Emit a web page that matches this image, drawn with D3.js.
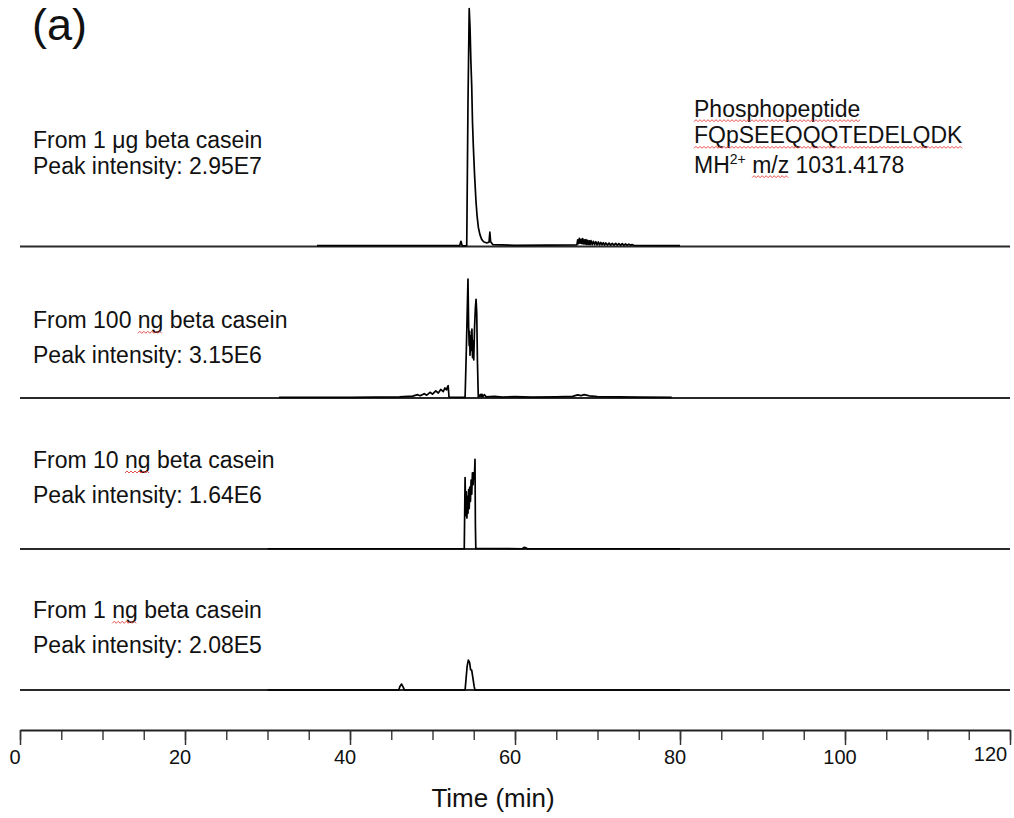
<!DOCTYPE html>
<html>
<head>
<meta charset="utf-8">
<script src="https://cdn.jsdelivr.net/npm/d3@7"></script>
<style>
    body { margin: 0; background: #fff; }
    text { font-family: "Liberation Sans", Arial, sans-serif; fill: #111; }
</style>
</head>
<body>
<svg id="canvas" width="1014" height="818"></svg>
<script>
// time (min), relative intensity (100 = tallest peak of the figure)
const trace1ug = [
    [36, 0.4], [45, 0.4], [53.3, 0.4], [53.45, 2.2], [53.6, 0.3], [54.15, 0.3], [54.3, 60], [54.45, 100],
    [54.55, 92], [54.65, 78], [54.75, 68], [54.85, 52], [54.95, 42], [55.1, 30], [55.27, 19], [55.4, 13],
    [55.56, 8], [55.75, 5], [55.96, 3], [56.2, 2], [56.57, 1.5], [56.85, 1.8], [56.95, 6], [57.05, 2],
    [57.3, 0.8], [60, 0.5], [64, 0.6], [67.5, 0.7], [67.6, 2.8], [67.7, 1.2], [67.8, 3.4], [67.9, 1.4],
    [68.0, 3.0], [68.1, 1.2], [68.2, 3.3], [68.3, 1.1], [68.4, 2.8], [68.5, 1.0], [68.6, 2.9],
    [68.7, 0.9], [68.8, 2.6], [68.9, 0.9], [69.0, 2.4], [69.1, 0.8], [69.2, 2.5], [69.35, 0.8], [69.5, 2.2],
    [69.65, 0.8], [69.8, 2.0], [69.95, 0.7], [70.1, 1.9], [70.25, 0.7], [70.4, 1.7], [70.55, 0.7],
    [70.7, 1.6], [70.85, 0.6], [71.0, 1.5], [71.2, 0.6], [71.4, 1.4], [71.6, 0.6], [71.8, 1.3], [72.0, 0.6],
    [72.2, 1.3], [72.4, 0.6], [72.6, 1.2], [72.8, 0.5], [73.0, 1.2], [73.2, 0.5], [73.4, 1.1], [73.6, 0.5],
    [73.8, 1.0], [74.0, 0.5], [74.2, 0.8], [74.4, 0.5], [77, 0.4], [80, 0.4]
];
const trace100ng = [
    [31.4, 0.3], [40, 0.3], [46, 0.5], [47.6, 0.8], [48.2, 1.4], [48.5, 0.9], [49, 1.8], [49.3, 1.2],
    [49.7, 2.4], [50, 1.6], [50.4, 3.0], [50.7, 2.1], [51.0, 3.6], [51.3, 2.7], [51.5, 4.2], [51.7, 3.4],
    [51.8, 4.6], [51.9, 5.2], [52.0, 0.4], [53.95, 0.3], [54.1, 20], [54.3, 50], [54.38, 30], [54.45, 22],
    [54.5, 28], [54.55, 18], [54.62, 26], [54.7, 20], [54.78, 29], [54.85, 17], [54.92, 24], [55.0, 16],
    [55.1, 30], [55.2, 38], [55.28, 41.5], [55.36, 36], [55.45, 15], [55.55, 0.5], [55.7, 0.8], [55.8, 1.5],
    [55.9, 0.6], [56.0, 1.6], [56.1, 0.6], [56.3, 1.4], [56.5, 0.5], [57.5, 0.7], [58.5, 0.4], [60, 0.6],
    [62, 0.4], [65, 0.5], [67, 0.7], [67.6, 1.3], [68, 1.0], [68.4, 1.4], [69, 0.9], [70, 0.6], [75, 0.4],
    [79, 0.3]
];
const trace10ng = [
    [30, 0.1], [53.85, 0.1], [53.95, 30], [54.03, 14], [54.1, 24], [54.17, 13], [54.24, 22], [54.3, 15],
    [54.38, 25], [54.45, 17], [54.52, 26], [54.6, 20], [54.68, 29], [54.76, 23], [54.84, 32], [54.92, 27],
    [55.0, 32], [55.08, 30], [55.15, 37.7], [55.2, 10], [55.25, 0.2], [60.9, 0.1], [61.1, 0.7], [61.3, 0.5],
    [61.5, 0.1], [80, 0.1]
];
const trace1ng = [
    [30, 0], [45.9, 0], [46.05, 1.5], [46.25, 2.5], [46.45, 1.2], [46.6, 0], [53.95, 0], [54.05, 4],
    [54.2, 10], [54.35, 12.6], [54.5, 11.5], [54.62, 8.5], [54.75, 8.4], [54.9, 5], [55.05, 1.5],
    [55.15, 0], [80, 0]
];

const traces = [trace1ug, trace100ng, trace10ng, trace1ng];
const sampleLabels = ['From 1 \u03bcg beta casein', 'From 100 ng beta casein', 'From 10 ng beta casein', 'From 1 ng beta casein'];
const intensityLabels = ['Peak intensity: 2.95E7', 'Peak intensity: 3.15E6', 'Peak intensity: 1.64E6', 'Peak intensity: 2.08E5'];
const majorTicks = [0, 20, 40, 60, 80, 100, 120];
const minorTicks = d3.range(0, 121, 5);

(function (d3) {

    const svg = d3.select('#canvas');
    const baselines = [246.5, 398, 549, 690];
    const labelRows = [[147.7, 173.5], [328.3, 363.3], [468, 503], [618.3, 653.3]];
    const AXIS_Y = 730;

    let x = d3.scaleLinear().domain([0, 120]).range([20, 1010]);
    let y = d3.scaleLinear().domain([0, 100]).range([0, -238]);

    let line = d3.line().x((d) => x(d[0])).y((d) => y(d[1]));

    svg.append('rect').attr('width', 1014).attr('height', 818).attr('fill', '#fff');

    // red spell-check squiggle under part of a text node
    function squiggle(node, from, count) {
        let el = node.node();
        let x0 = el.getStartPositionOfChar(from).x;
        let w = el.getSubStringLength(from, count);
        let by = +node.attr('y') + 4;
        let pts = [];
        for (let i = 0; i * 2 <= w; i++) {
            pts.push([x0 + i * 2, by + (i % 2 ? -1 : 1)]);
        }
        svg.append('path')
            .attr('d', d3.line()(pts))
            .attr('fill', 'none')
            .attr('stroke', '#e23a3a')
            .attr('stroke-width', 0.9);
    }

    traces.forEach(function (trace, i) {
        let g = svg.append('g').attr('transform', `translate(0,${baselines[i]})`);
        g.append('line')
            .attr('x1', x(0)).attr('x2', x(120))
            .attr('stroke', '#2a2a2a').attr('stroke-width', 2.2);
        g.append('path')
            .datum(trace)
            .attr('d', line)
            .attr('fill', 'none')
            .attr('stroke', '#000')
            .attr('stroke-width', 1.7)
            .attr('stroke-linejoin', 'round');

        let t1 = svg.append('text')
            .attr('x', 33).attr('y', labelRows[i][0])
            .attr('font-size', 23)
            .text(sampleLabels[i]);
        svg.append('text')
            .attr('x', 33).attr('y', labelRows[i][1])
            .attr('font-size', 23)
            .text(intensityLabels[i]);
        let ng = sampleLabels[i].indexOf(' ng');
        if (ng > 0) squiggle(t1, ng + 1, 2);
    });

    svg.append('text')
        .attr('x', 32).attr('y', 40)
        .attr('font-size', 45)
        .text('(a)');

    let a1 = svg.append('text').attr('x', 694).attr('y', 116.7).attr('font-size', 23).text('Phosphopeptide');
    let a2 = svg.append('text').attr('x', 694).attr('y', 143.3).attr('font-size', 23).text('FQpSEEQQQTEDELQDK');
    let a3 = svg.append('text').attr('x', 694).attr('y', 172.7).attr('font-size', 23);
    a3.append('tspan').text('MH');
    a3.append('tspan').attr('font-size', 14).attr('dy', -9).text('2+');
    a3.append('tspan').attr('dy', 9).text(' m/z 1031.4178');
    squiggle(a1, 0, 14);
    squiggle(a2, 0, 17);
    squiggle(a3, 5, 3);

    // time axis
    let minor = svg.append('g')
        .attr('transform', `translate(0,${AXIS_Y})`)
        .call(d3.axisBottom(x).tickValues(minorTicks).tickSize(10).tickSizeOuter(0).tickFormat(''));
    minor.select('.domain').remove();
    minor.selectAll('line').attr('stroke', '#444').attr('stroke-width', 1.5);

    let axis = svg.append('g')
        .attr('transform', `translate(0,${AXIS_Y})`)
        .call(d3.axisBottom(x).tickValues(majorTicks).tickSize(15).tickSizeOuter(0).tickPadding(5));
    axis.select('.domain').attr('stroke', '#222').attr('stroke-width', 2.2);
    axis.selectAll('line').attr('stroke', '#333').attr('stroke-width', 1.5);
    axis.selectAll('text')
        .attr('font-size', 20)
        .attr('font-family', '"Liberation Sans", Arial, sans-serif')
        .attr('fill', '#111')
        .attr('dx', (d) => d === 120 ? -20 : -5.5)
        .attr('dy', (d) => d === 120 ? '0.55em' : '0.71em');

    svg.append('text')
        .attr('x', 493).attr('y', 807)
        .attr('text-anchor', 'middle')
        .attr('font-size', 26)
        .text('Time (min)');

})(d3)
</script>
</body>
</html>
